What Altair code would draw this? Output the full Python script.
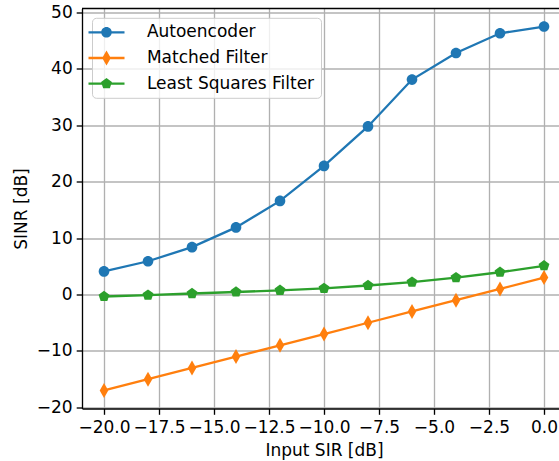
import altair as alt
import pandas as pd

# ---- data ----
sir = [-20, -18, -16, -14, -12, -10, -8, -6, -4, -2, 0]
autoencoder = [4.1, 5.9, 8.4, 11.9, 16.6, 22.8, 29.8, 38.1, 42.8, 46.3, 47.5]
matched_filter = [-17, -15, -13, -11, -9, -7, -5, -3, -1, 1, 3]
least_squares = [-0.35, -0.1, 0.18, 0.45, 0.75, 1.1, 1.6, 2.2, 3.0, 3.95, 5.1]

series_names = ["Autoencoder", "Matched Filter", "Least Squares Filter"]
colors = ["#1f77b4", "#ff7f0e", "#2ca02c"]
x_ticks = [-20, -17.5, -15, -12.5, -10, -7.5, -5, -2.5, 0]
y_ticks = [-20, -10, 0, 10, 20, 30, 40, 50]

rows = []
for name, vals in zip(series_names, [autoencoder, matched_filter, least_squares]):
    for s, v in zip(sir, vals):
        rows.append({"sir": s, "sinr": v, "series": name})
df = pd.DataFrame(rows)

# ---- marker shapes (unit = sqrt(size)/2 px) ----
circle = "M1.06,0A1.06,1.06,0,1,1,-1.06,0A1.06,1.06,0,1,1,1.06,0Z"
diamond = "M0,-1.5L0.86,0L0,1.5L-0.86,0Z"
pentagon = "M0,-1.14L1.084,-0.352L0.67,0.922L-0.67,0.922L-1.084,-0.352Z"
marker_paths = [circle, diamond, pentagon]
seg = "M-3.6,-0.23L3.6,-0.23L3.6,0.23L-3.6,0.23Z"
legend_shape_expr = (
    "datum.value === 'Autoencoder' ? '" + seg + circle + "' : "
    "datum.value === 'Matched Filter' ? '" + seg + diamond + "' : '" + seg + pentagon + "'"
)
legend_fill_expr = "scale('color', datum.value)"

FONT = "DejaVu Sans"
FS = 17
W, H = 477, 400

x_enc = alt.X(
    "sir:Q",
    scale=alt.Scale(domain=[-21, -21 + W / 22.0], nice=False, zero=False),
    axis=alt.Axis(values=x_ticks, format=".1f", title="Input SIR [dB]",
                  titleX=242, titleY=46.5, titleBaseline="alphabetic"),
)
y_enc = alt.Y(
    "sinr:Q",
    scale=alt.Scale(domain=[-20.2, 50.7], nice=False, zero=False),
    axis=alt.Axis(values=y_ticks, format="d", title="SINR [dB]",
                  titleX=-56, titleY=200, titleBaseline="alphabetic"),
)

legend = alt.Legend(
    title=None, orient="none", legendX=10, legendY=9.3,
    padding=6, rowPadding=7.7, symbolOffset=0, labelOffset=31.9,
    fillColor="rgba(255,255,255,0.8)", strokeColor="#cccccc",
    cornerRadius=4, labelFont=FONT, labelFontSize=FS, labelColor="black",
    symbolSize=100, symbolStrokeWidth=0, symbolOpacity=1, labelLimit=400,
    symbolType=alt.ExprRef(legend_shape_expr),
    symbolFillColor=alt.ExprRef(legend_fill_expr),
    symbolStrokeColor="transparent",
)

lines = alt.Chart(df).mark_line(strokeWidth=2.3).encode(
    x=x_enc, y=y_enc,
    color=alt.Color("series:N", scale=alt.Scale(domain=series_names, range=colors), legend=legend),
    detail="series:N",
)

point_layers = []
for name, col, path in zip(series_names, colors, marker_paths):
    point_layers.append(
        alt.Chart(df).transform_filter(alt.datum.series == name)
        .mark_point(filled=True, size=100, opacity=1, shape=path, color=col)
        .encode(x=x_enc, y=y_enc)
    )

top_spine = alt.Chart(pd.DataFrame({"v": [0]})).mark_rule(color="black", strokeWidth=1.33).encode(
    x=alt.value(0), x2=alt.value(W), y=alt.value(0)
)

chart = alt.layer(lines, *point_layers, top_spine).properties(
    width=W, height=H,
    autosize=alt.AutoSizeParams(type="none"),
    padding={"left": 82, "top": 8.5, "right": 0, "bottom": 52.5},
    background="white",
).configure_view(stroke=None).configure_axis(
    labelFont=FONT, labelFontSize=FS, labelColor="black",
    titleFont=FONT, titleFontSize=FS, titleColor="black", titleFontWeight="normal",
    domainColor="black", domainWidth=1.33,
    tickColor="black", tickWidth=1.33, tickSize=5.8,
    gridColor="#b0b0b0", gridWidth=1.33, grid=True,
).configure_axisX(labelPadding=5).configure_axisY(labelPadding=4)

chart.save("out.html", embed_options={"renderer": "svg", "actions": False})
